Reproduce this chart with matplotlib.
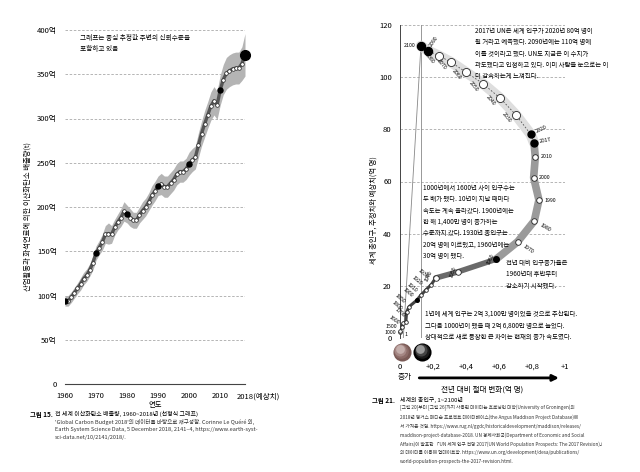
import matplotlib
matplotlib.use('Agg')
import matplotlib.pyplot as plt
from matplotlib.transforms import ScaledTranslation

plt.rcParams['font.family'] = ['Noto Sans CJK KR', 'DejaVu Sans']

# ---- left chart: CO2 emissions (억 t) ----
co2_years = list(range(1960, 2019))
co2 = [94, 94, 98, 103, 108, 113, 119, 123, 129, 137,
       148, 154, 160, 169, 170, 169, 177, 183, 188, 195,
       192, 188, 185, 185, 191, 196, 200, 206, 213, 218,
       224, 226, 223, 223, 227, 231, 237, 240, 240, 243,
       249, 253, 256, 270, 283, 294, 304, 314, 320, 315,
       332, 344, 351, 354, 356, 357, 357, 362, 372]
co2_err = [6, 6, 6, 6, 6, 7, 7, 7, 7, 8,
           8, 8, 9, 10, 12, 10, 9, 9, 10, 11,
           10, 10, 9, 9, 9, 10, 10, 10, 11, 11,
           11, 12, 12, 12, 12, 12, 12, 12, 12, 12,
           13, 13, 13, 14, 14, 15, 15, 16, 16, 16,
           17, 17, 18, 18, 18, 18, 18, 19, 24]
co2_yticks = [0, 50, 100, 150, 200, 250, 300, 350, 400]
co2_xticks = [1960, 1970, 1980, 1990, 2000, 2010, 2018]

# ---- right chart: world population (억 명) vs yearly change (억 명) ----
pop_years = [1, 1000, 1500, 1600, 1700, 1800, 1850, 1900, 1910, 1920, 1930, 1940,
             1950, 1960, 1970, 1980, 1990, 2000, 2010, 2017,
             2020, 2030, 2040, 2050, 2060, 2070, 2080, 2090, 2100]
pop = [2.3, 2.7, 4.4, 5.6, 6.0, 9.9, 12.0, 14.4, 16.3, 18.3, 20.5, 23.0,
       25.4, 30.2, 36.9, 44.9, 52.9, 61.5, 69.4, 74.9,
       78.1, 85.5, 91.9, 97.5, 101.9, 105.7, 108.2, 110.2, 112.0]
pop_change = [0.0, 0.0, 0.01, 0.02, 0.035, 0.04, 0.055, 0.10, 0.125, 0.155, 0.19, 0.216,
              0.353, 0.582, 0.713, 0.814, 0.842, 0.81, 0.82, 0.812,
              0.792, 0.703, 0.608, 0.503, 0.40, 0.311, 0.236, 0.168, 0.127]
pop_yticks = [0, 20, 40, 60, 80, 100, 120]
pop_xticks = [0, 0.2, 0.4, 0.6, 0.8, 1]
pop_xlabels = ['0', '+0,2', '+0,4', '+0,6', '+0,8', '+1']

W, H = 640, 472
fig = plt.figure(figsize=(6.4, 4.72), dpi=100)


def fx(x):
    return x / W


def fy(y):
    return 1 - y / H


# ================= left =================
ax = fig.add_axes([fx(65), fy(384), fx(180), 354 / H])
ax.set_xlim(1960, 2018)
ax.set_ylim(0, 400)
for s in ['top', 'right', 'left']:
    ax.spines[s].set_visible(False)
ax.spines['bottom'].set_color('#444444')
ax.spines['bottom'].set_linewidth(0.8)
for v in co2_yticks[1:]:
    ax.axhline(v, color='#aaaaaa', lw=0.6, ls=(0, (3, 2)), zorder=0)

lo = [c - e for c, e in zip(co2, co2_err)]
hi = [c + e for c, e in zip(co2, co2_err)]
ax.fill_between(co2_years, lo, hi, color='#b4b4b4', lw=0, zorder=1)
ax.plot(co2_years, co2, color='#555555', lw=2.4, zorder=2)
ax.plot(co2_years, co2, ls='none', marker='o', ms=2.6, mfc='white', mec='#222222', mew=0.5, zorder=3)
dec = [i for i, y in enumerate(co2_years) if y % 10 == 0]
ax.plot([co2_years[i] for i in dec], [co2[i] for i in dec], ls='none', marker='o', ms=3.6,
        color='black', zorder=4)
ax.plot(co2_years[-1], co2[-1], marker='o', ms=7, color='black', zorder=5, clip_on=False)

ax.set_yticks(co2_yticks)
ax.set_yticklabels(['0'] + ['%d억' % v for v in co2_yticks[1:]], fontsize=5.5)
ax.set_xticks(co2_xticks)
ax.set_xticklabels([str(v) for v in co2_xticks[:-1]] + ['2018(예상치)'], fontsize=5.5)
ax.tick_params(length=0, pad=6)
lbl = ax.get_xticklabels()[-1]
lbl.set_ha('left')
lbl.set_transform(lbl.get_transform() + ScaledTranslation(-8 / 100, 0, fig.dpi_scale_trans))
ax.set_xlabel('연도', fontsize=5.3, labelpad=0.5)

fig.text(fx(28), fy(217), '산업활동과 화석연료에 의한 이산화탄소 배출량(t)', rotation=90,
         ha='center', va='center', fontsize=5.3)
fig.text(fx(80), fy(34), '그래프는 중심 추정값 주변의 신뢰수준을\n포함하고 있음', fontsize=4.8,
         va='top', linespacing=1.5)

fig.text(fx(30), fy(414), '그림 15.', fontsize=4.6, va='center', fontweight='bold')
fig.text(fx(55), fy(414), '전 세계 이산화탄소 배출량, 1960~2018년 (선형식 그래프)', fontsize=4.3, va='center')
fig.text(fx(55), fy(419), "'Global Carbon Budget 2018'의 데이터를 바탕으로 재구성함. Corinne Le Quéré 외,\n"
         "Earth System Science Data, 5 December 2018, 2141–4, https://www.earth-syst-\n"
         "sci-data.net/10/2141/2018/.", fontsize=4.0, va='top', linespacing=1.6, color='#333333')

# ================= right =================
bx = fig.add_axes([fx(400), fy(338), fx(165), 313 / H])
bx.set_xlim(0, 1)
bx.set_ylim(0, 120)
for s in ['top', 'right', 'bottom']:
    bx.spines[s].set_visible(False)
bx.spines['left'].set_color('#444444')
bx.spines['left'].set_linewidth(0.7)
for v in pop_yticks[1:]:
    bx.axhline(v, color='#aaaaaa', lw=0.6, ls=(0, (3, 2)), zorder=0)
bx.axhline(0, color='#999999', lw=0.6, zorder=0)

# guide lines from 2100 point
bx.plot([pop_change[-1], pop_change[-1]], [0, 120], color='#888888', lw=0.6, zorder=0)
bx.plot([pop_change[-1], 0.02], [pop[-1], 0], color='#888888', lw=0.6, zorder=0)

i40 = pop_years.index(1940)
i60 = pop_years.index(1960)
i17 = pop_years.index(2017)
bx.plot(pop_change[i17:], pop[i17:], color='#dedede', lw=7.5, solid_capstyle='round',
        solid_joinstyle='round', zorder=1)
bx.plot(pop_change[i17:], pop[i17:], color='#555555', lw=0.6, ls=(0, (2, 2)), zorder=2)
bx.plot(pop_change[i60:i17 + 1], pop[i60:i17 + 1], color='#9a9a9a', lw=5.5,
        solid_capstyle='round', solid_joinstyle='round', zorder=2)
bx.plot(pop_change[i40:i60 + 1], pop[i40:i60 + 1], color='#6a6a6a', lw=4,
        solid_capstyle='round', solid_joinstyle='round', zorder=2)
bx.plot(pop_change[:i40 + 1], pop[:i40 + 1], color='#444444', lw=2.2,
        solid_capstyle='round', solid_joinstyle='round', zorder=2)

black_years = [1900, 1960, 2017, 2020, 2090, 2100]
for yr, cx, py in zip(pop_years, pop_change, pop):
    if yr < 1940:
        ms = 2.6
    elif yr < 2017:
        ms = 4.0
    elif yr < 2030:
        ms = 5.0
    else:
        ms = 5.8
    if yr in black_years:
        bx.plot(cx, py, marker='o', ms=ms, color='black', zorder=4, clip_on=False)
    else:
        bx.plot(cx, py, marker='o', ms=ms, mfc='white', mec='#222222', mew=0.6, zorder=4,
                clip_on=False)

# year labels: (dx, dy in points, rotation, ha)
lab_style = {
    1: (3, -2, 0, 'left'), 1000: (-3, -1, 0, 'right'), 1500: (-3, 0, 0, 'right'),
    1600: (-3, 0, -35, 'right'), 1700: (-1, 4, -40, 'right'), 1800: (-4, 2, -40, 'right'),
    1850: (-3, 3, -40, 'right'), 1900: (-3, 3, -40, 'right'), 1910: (-3, 3, -40, 'right'),
    1920: (-3, 4, -40, 'right'), 1930: (-3, 5, -40, 'right'), 1940: (-3, 5, 65, 'right'),
    1950: (-2, 4, 70, 'right'), 1960: (-2, 4, 65, 'right'), 1970: (4, -3, -35, 'left'),
    1980: (4, -3, -30, 'left'), 1990: (4, 0, 0, 'left'), 2000: (4, 0, 0, 'left'),
    2010: (4, 0, 0, 'left'), 2017: (4, 1, 10, 'left'), 2020: (4, 2, 25, 'left'),
    2030: (-4, -5, -50, 'right'), 2040: (-4, -5, -50, 'right'), 2050: (-4, -5, -50, 'right'),
    2060: (-4, -5, -50, 'right'), 2070: (-4, -5, -50, 'right'), 2080: (-4, -5, -50, 'right'),
    2090: (2, 3, 55, 'left'), 2100: (-4, 0, 0, 'right'),
}
for yr, cx, py in zip(pop_years, pop_change, pop):
    dx, dy, rot, ha = lab_style[yr]
    bx.annotate(str(yr), (cx, py), xytext=(dx, dy), textcoords='offset points', fontsize=3.8,
                rotation=rot, ha=ha, va='center', rotation_mode='anchor', zorder=6,
                annotation_clip=False)

# balls
for cx, base, shades in [(0.01, '#7a5a56', ['#8d6c68', '#a58784', '#c4aeab']),
                         (0.135, '#000000', ['#1a1a1a', '#444444', '#9a9a9a'])]:
    bx.scatter([cx], [-5.2], s=170, color=base, zorder=3, clip_on=False, lw=0)
    for j, c in enumerate(shades):
        bx.scatter([cx - 0.004 * (j + 1)], [-5.2 + 0.35 * (j + 1)], s=110 - 35 * j, color=c,
                   zorder=3, clip_on=False, lw=0)

bx.set_yticks(pop_yticks)
bx.set_yticklabels([str(v) for v in pop_yticks], fontsize=5.5)
bx.set_xticks(pop_xticks)
bx.set_xticklabels(pop_xlabels, fontsize=5.5)
bx.tick_params(length=0)
bx.tick_params(axis='x', pad=18)
bx.tick_params(axis='y', pad=6)

bx.text(0.03, -15, '증가', fontsize=5.5, ha='center', va='center')
bx.annotate('', xy=(0.98, -15.3), xytext=(0.1, -15.3),
            arrowprops=dict(arrowstyle='-|>', lw=2, color='black', mutation_scale=9),
            annotation_clip=False)
bx.text(0.5, -18.3, '전년 대비 절대 변화(억 명)', fontsize=5.5, ha='center', va='top')

fig.text(fx(374), fy(210), '세계 총인구, 추정치와 예상치(억 명)', rotation=90, ha='center',
         va='center', fontsize=5.3)

txt = dict(fontsize=4.6, va='top', linespacing=1.55)
fig.text(fx(475), fy(27), '2017년 UN은 세계 인구가 2020년 80억 명이\n'
         '될 거라고 예측했다. 2090년에는 110억 명에\n'
         '이를 것이라고 했다. UN도 지금은 이 수치가\n'
         '과도했다고 인정하고 있다. 이미 사람들 눈으로는 이\n'
         '더 감속하는게 느껴진다.', **txt)
fig.text(fx(423), fy(184), '1000년에서 1600년 사이 인구수는\n'
         '두 배가 됐다. 10년이 지날 때마다\n'
         '속도는 계속 올라갔다. 1900년에는\n'
         '한 해 1,400만 명이 증가하는\n'
         '수준까지 갔다. 1930년 총인구는\n'
         '20억 명에 이르렀고, 1960년에는\n'
         '30억 명이 됐다.', **txt)
fig.text(fx(506), fy(259), '전년 대비 인구증가율은\n1960년대 후반부터\n감소하기 시작했다.', **txt)
fig.text(fx(425), fy(310), '1년에 세계 인구는 2억 3,100만 명이었을 것으로 추산된다.\n'
         '그다음 1000년이 됐을 때 2억 6,800만 명으로 늘었다.\n'
         '상대적으로 새로 등장한 큰 차이는 현재의 증가 속도였다.', **txt)

fig.text(fx(372), fy(400), '그림 21.', fontsize=4.6, va='center', fontweight='bold')
fig.text(fx(400), fy(400), '세계의 총인구, 1~2100년', fontsize=4.3, va='center')
fig.text(fx(400), fy(405),
         '[그림 20]부터 [그림 26]까지 사용된 데이터는 흐로닝언 대학(University of Groningen)의\n'
         '2018년 앵거스 매디슨 프로젝트 데이터베이스(the Angus Maddison Project Database)에\n'
         '서 가져온 것임. https://www.rug.nl/ggdc/historicaldevelopment/maddison/releases/\n'
         'maddison-project-database-2018. UN 경제사회국(Department of Economic and Social\n'
         'Affairs)이 발표한 「UN 세계 인구 전망 2017(UN World Population Prospects: The 2017 Revision)」\n'
         '의 데이터를 이용해 업데이트함. https://www.un.org/development/desa/publications/\n'
         'world-population-prospects-the-2017-revision.html.',
         fontsize=3.4, va='top', linespacing=1.85, color='#333333')

fig.savefig('out.png', dpi=100)
